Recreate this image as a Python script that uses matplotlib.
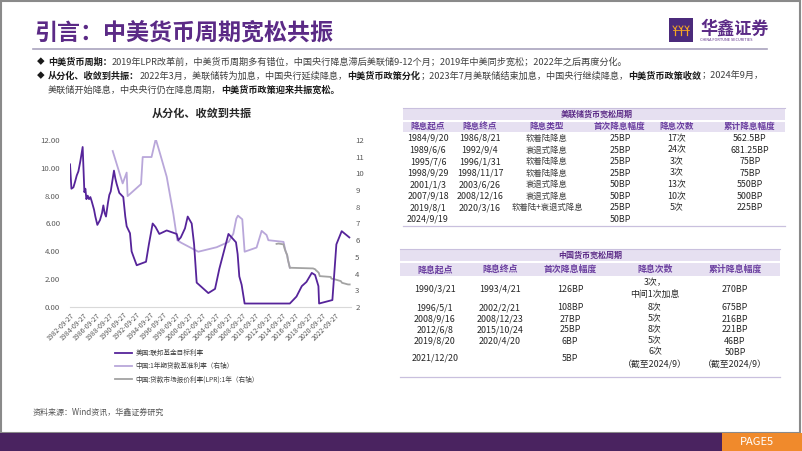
import matplotlib
matplotlib.use('Agg')
import matplotlib.pyplot as plt
from matplotlib.patches import Rectangle
import pandas as pd

CJK = ['Noto Sans CJK SC', 'DejaVu Sans']
plt.rcParams['font.family'] = CJK

# ---------------- data ----------------
us_years = [1982.74, 1982.95, 1983.25, 1983.50, 1983.75, 1984.00, 1984.30, 1984.64, 1984.90, 1985.05,
            1985.20, 1985.40, 1985.60, 1985.80, 1986.00, 1986.35, 1986.55, 1986.85, 1987.25, 1987.55,
            1987.75, 1987.95, 1988.15, 1988.45, 1988.65, 1988.86, 1989.35, 1989.55, 1989.75, 1990.15,
            1990.75, 1991.05, 1991.26, 1991.76, 1992.00, 1992.30, 1992.77, 1994.17, 1994.60, 1995.17,
            1995.60, 1996.17, 1997.28, 1998.78, 1999.03, 1999.40, 2000.03, 2000.44, 2001.04, 2001.40,
            2001.79, 2003.54, 2004.55, 2005.20, 2006.57, 2007.70, 2007.95, 2008.20, 2008.55, 2009.00,
            2015.80, 2016.80, 2017.60, 2018.30, 2019.10, 2019.60, 2020.10, 2020.20, 2022.20, 2022.80,
            2023.60, 2024.75]
us_rate = [10.25, 8.50, 8.60, 9.00, 9.45, 9.75, 10.50, 11.50, 8.25, 8.50,
           7.75, 8.00, 7.75, 7.90, 7.60, 7.00, 6.50, 5.90, 6.25, 6.75,
           7.30, 6.75, 6.50, 7.50, 8.05, 8.30, 9.80, 9.25, 8.85, 8.20,
           7.90, 6.50, 5.80, 5.30, 4.00, 3.60, 3.00, 3.25, 4.50, 6.00,
           5.75, 5.25, 5.50, 5.25, 4.80, 5.00, 5.65, 6.50, 6.00, 4.50,
           1.75, 1.00, 1.30, 2.75, 5.25, 4.65, 3.80, 2.20, 1.60, 0.25,
           0.25, 0.75, 1.50, 1.80, 2.45, 2.30, 1.50, 0.25, 0.50, 4.50,
           5.45, 5.00]

cn_bench_years = [1989.16, 1990.66, 1991.26, 1991.40, 1993.42, 1993.67, 1995.00, 1995.63, 1996.27, 1997.28,
                  1998.27, 1998.87, 1999.45, 2002.03, 2004.80, 2006.60, 2007.30, 2007.75, 2008.00, 2008.65,
                  2009.00, 2010.80, 2011.56, 2012.30, 2012.57, 2014.85, 2015.15, 2015.40, 2015.50, 2015.65,
                  2015.80]
cn_bench_rate = [11.34, 9.40, 10.05, 8.64, 9.36, 10.98, 10.98, 12.06, 11.20, 9.80,
                 7.60, 6.00, 5.85, 5.31, 5.58, 5.90, 6.39, 7.29, 7.47, 7.25,
                 5.31, 5.56, 6.56, 6.31, 6.00, 5.90, 5.35, 5.10, 4.85, 4.60,
                 4.35]

lpr_years = [2013.80, 2014.10, 2014.85, 2015.00, 2015.20, 2015.40, 2015.50, 2015.65, 2015.80, 2019.30,
             2019.65, 2019.72, 2019.88, 2020.15, 2020.30, 2021.95, 2022.05, 2022.62, 2023.47, 2023.64,
             2024.55, 2024.80]
lpr_rate = [5.78, 5.80, 5.75, 5.51, 5.30, 5.10, 4.86, 4.60, 4.35, 4.31,
            4.25, 4.20, 4.15, 4.05, 3.85, 3.80, 3.70, 3.65, 3.55, 3.45,
            3.35, 3.35]

x_tick_labels = ['1982-09-27', '1984-09-27', '1986-09-27', '1988-09-27', '1990-09-27', '1992-09-27',
                 '1994-09-27', '1996-09-27', '1998-09-27', '2000-09-27', '2002-09-27', '2004-09-27',
                 '2006-09-27', '2008-09-27', '2010-09-27', '2012-09-27', '2014-09-27', '2016-09-27',
                 '2018-09-27', '2020-09-27', '2022-09-27']
left_ticks = [0, 2, 4, 6, 8, 10, 12]
left_tick_labels = ['0.00', '2.00', '4.00', '6.00', '8.00', '10.00', '12.00']
right_ticks = [2, 3, 4, 5, 6, 7, 8, 9, 10, 11, 12]

series_labels = ['美国:联邦基金目标利率', '中国:1年期贷款基准利率（右轴）', '中国:贷款市场报价利率(LPR):1年（右轴）']

us_header = ['降息起点', '降息终点', '降息类型', '首次降息幅度', '降息次数', '累计降息幅度']
us_start = ['1984/9/20', '1989/6/6', '1995/7/6', '1998/9/29', '2001/1/3', '2007/9/18', '2019/8/1', '2024/9/19']
us_end = ['1986/8/21', '1992/9/4', '1996/1/31', '1998/11/17', '2003/6/26', '2008/12/16', '2020/3/16', '']
us_type = ['软着陆降息', '衰退式降息', '软着陆降息', '软着陆降息', '衰退式降息', '衰退式降息', '软着陆+衰退式降息', '']
us_first = ['25BP', '25BP', '25BP', '25BP', '50BP', '50BP', '25BP', '50BP']
us_count = ['17次', '24次', '3次', '3次', '13次', '10次', '5次', '']
us_total = ['562.5BP', '681.25BP', '75BP', '75BP', '550BP', '500BP', '225BP', '']

cn_header = ['降息起点', '降息终点', '首次降息幅度', '降息次数', '累计降息幅度']
cn_start = ['1990/3/21', '1996/5/1', '2008/9/16', '2012/6/8', '2019/8/20', '2021/12/20']
cn_end = ['1993/4/21', '2002/2/21', '2008/12/23', '2015/10/24', '2020/4/20', '']
cn_first = ['126BP', '108BP', '27BP', '25BP', '6BP', '5BP']
cn_count = ['3次，\n中间1次加息', '8次', '5次', '8次', '5次', '6次\n（截至2024/9）']
cn_total = ['270BP', '675BP', '216BP', '221BP', '46BP', '50BP\n（截至2024/9）']

# ---------------- figure ----------------
W, H = 802, 451
fig = plt.figure(figsize=(W / 100, H / 100), dpi=100)
fig.patch.set_facecolor('white')
ov = fig.add_axes([0, 0, 1, 1])
ov.set_xlim(0, W)
ov.set_ylim(H, 0)
ov.axis('off')

PURPLE = '#5b2a86'
LAV = '#e6e0f1'
LAVLINE = '#c9c0de'

# frame
ov.add_patch(Rectangle((1, 1), W - 3, 432, fill=False, edgecolor='#8a8a8a', lw=1.5))
# title
ov.text(34, 33, '引言：中美货币周期宽松共振', fontsize=16.6, fontweight='bold', color=PURPLE,
        va='center', ha='left')
ov.plot([33, 767], [49, 49], color='#a9a3bd', lw=1.2)
# logo
ov.add_patch(Rectangle((669, 18), 24, 24, facecolor='#4b2a7b', edgecolor='none'))
for cx in (675, 681, 687):
    ov.plot([cx, cx], [28, 35], color='#f5a623', lw=0.9)
    ov.plot([cx - 2, cx, cx + 2], [26, 29, 26], color='#f5a623', lw=0.7)
ov.plot([673, 689], [30, 30], color='#f5a623', lw=0.6)
ov.text(700, 29, '华鑫证券', fontsize=12.3, color=PURPLE, va='center', ha='left', fontweight='bold')
ov.text(700, 40, 'CHINA FORTUNE SECURITIES', fontsize=2.8, color=PURPLE, va='center', ha='left')

# bullets with bold runs
fig.canvas.draw()
renderer = fig.canvas.get_renderer()
BFS = 6.6


def runs(x, y, parts):
    for s, b in parts:
        t = ov.text(x, y, s, fontsize=BFS, fontweight='bold' if b else 'normal',
                    color='#1a1a1a' if b else '#404040', va='center', ha='left')
        x += t.get_window_extent(renderer).width


ov.text(37, 62, '◆', fontsize=5.5, color='#1a1a1a', va='center', ha='left')
ov.text(37, 76, '◆', fontsize=5.5, color='#1a1a1a', va='center', ha='left')
runs(48, 62, [('中美货币周期：', True),
              ('2019年LPR改革前，中美货币周期多有错位，中国央行降息滞后美联储9-12个月；2019年中美同步宽松；2022年之后再度分化。', False)])
runs(48, 76, [('从分化、收敛到共振：', True), ('2022年3月，美联储转为加息，中国央行延续降息，', False),
              ('中美货币政策分化', True), ('；2023年7月美联储结束加息，中国央行继续降息，', False),
              ('中美货币政策收敛', True), ('；2024年9月，', False)])
runs(48, 90, [('美联储开始降息，中央央行仍在降息周期，', False), ('中美货币政策迎来共振宽松。', True)])

# chart title
ov.text(202, 113, '从分化、收敛到共振', fontsize=8, fontweight='bold', color='#262626', va='center', ha='center')

# source
ov.text(33, 412, '资料来源：Wind资讯，华鑫证券研究', fontsize=5.8, color='#555555', va='center', ha='left')

# bottom bar
ov.add_patch(Rectangle((0, 433), 722, 18, facecolor='#4a2360', edgecolor='none'))
ov.add_patch(Rectangle((722, 433), 80, 18, facecolor='#f08a2c', edgecolor='none'))
ov.text(757, 442, 'PAGE5', fontsize=8, color='white', va='center', ha='center')

# ---------------- US table ----------------
TX0, TX1 = 403, 785
ov.add_patch(Rectangle((TX0, 108), TX1 - TX0, 12, facecolor=LAV, edgecolor='none'))
ov.add_patch(Rectangle((TX0, 121), TX1 - TX0, 11, facecolor=LAV, edgecolor='none'))
ov.plot([TX0, TX1], [108, 108], color=LAVLINE, lw=0.8)
ov.plot([TX0, TX1], [120.5, 120.5], color='white', lw=0.8)
ov.plot([TX0, TX1], [226, 226], color=LAVLINE, lw=0.9)
ov.text(597, 114.5, '美联储货币宽松周期', fontsize=5.8, color=PURPLE, fontweight='bold', va='center', ha='center')
us_cols = [428, 480, 547, 620, 677, 750]
for cx, h in zip(us_cols, us_header):
    ov.text(cx, 126.5, h, fontsize=6.2, color='#6b3fa0', fontweight='bold', va='center', ha='center')
for i in range(len(us_start)):
    y = 138.5 + i * 11.55
    vals = [us_start[i], us_end[i], us_type[i], us_first[i], us_count[i], us_total[i]]
    for j, (cx, v) in enumerate(zip(us_cols, vals)):
        ov.text(cx, y, v, fontsize=6.4 if j != 2 else 6.0, color='#262626' if j != 2 else '#404040',
                va='center', ha='center')

# ---------------- China table ----------------
CX0, CX1 = 400, 780
ov.add_patch(Rectangle((CX0, 249), CX1 - CX0, 12, facecolor=LAV, edgecolor='none'))
ov.add_patch(Rectangle((CX0, 262), CX1 - CX0, 14, facecolor=LAV, edgecolor='none'))
ov.plot([CX0, CX1], [249, 249], color=LAVLINE, lw=0.8)
ov.plot([CX0, CX1], [261.5, 261.5], color='white', lw=0.8)
ov.plot([CX0, CX1], [377, 377], color=LAVLINE, lw=0.9)
ov.text(590, 255, '中国货币宽松周期', fontsize=5.8, color=PURPLE, fontweight='bold', va='center', ha='center')
cn_cols = [435, 500, 570, 655, 735]
for cx, h in zip(cn_cols, cn_header):
    ov.text(cx, 269.5, h, fontsize=6.4, color='#6b3fa0', fontweight='bold', va='center', ha='center')
cn_rows_y = [289, 308, 319, 330, 341, 358.5]
for i in range(len(cn_start)):
    vals = [cn_start[i], cn_end[i], cn_first[i], cn_count[i], cn_total[i]]
    for cx, v in zip(cn_cols, vals):
        ov.text(cx, cn_rows_y[i], v, fontsize=6.4, color='#262626', va='center', ha='center',
                linespacing=1.55, multialignment='center')

# ---------------- chart ----------------
ax = fig.add_axes([70 / W, 1 - 307 / H, 281 / W, 167 / H])
ax.patch.set_alpha(0)
l1, = ax.plot(us_years, us_rate, color='#56249a', lw=1.3, zorder=3)
ax.set_ylim(0, 12)
ax.set_yticks(left_ticks)
ax.set_yticklabels(left_tick_labels)


def dec_year(s):
    t = pd.Timestamp(s)
    return t.year + (t.dayofyear - 1) / 365.25


xt = [dec_year(s) for s in x_tick_labels]
ax.set_xlim(xt[0], 2025.0)
ax.set_xticks(xt)
ax.set_xticklabels(x_tick_labels, rotation=45, ha='right', rotation_mode='anchor')
for s in ['top', 'right', 'left']:
    ax.spines[s].set_visible(False)
ax.spines['bottom'].set_color('#d9d9d9')
ax.spines['bottom'].set_linewidth(0.8)
ax.tick_params(axis='y', length=0, pad=7, labelsize=5.6, labelcolor='#595959')
ax.tick_params(axis='x', length=0, pad=3, labelsize=5.0, labelcolor='#595959')

ax2 = ax.twinx()
l2, = ax2.plot(cn_bench_years, cn_bench_rate, color='#b9a7da', lw=1.3, zorder=2)
l3, = ax2.plot(lpr_years, lpr_rate, color='#a3a3a3', lw=1.3, zorder=2)
ax2.set_ylim(2, 12)
ax2.set_yticks(right_ticks)
for s in ['top', 'right', 'left', 'bottom']:
    ax2.spines[s].set_visible(False)
ax2.tick_params(axis='y', length=0, pad=3, labelsize=5.6, labelcolor='#595959')
ax.set_zorder(ax2.get_zorder() + 1)

fig.legend([l1, l2, l3], series_labels, loc='upper left', bbox_to_anchor=(115 / W, 1 - 349 / H),
           frameon=False, fontsize=4.8, handlelength=2.6, handletextpad=0.5, labelspacing=0.8,
           borderaxespad=0, borderpad=0, labelcolor='#404040')

fig.savefig('out.png', dpi=100, facecolor='white')
